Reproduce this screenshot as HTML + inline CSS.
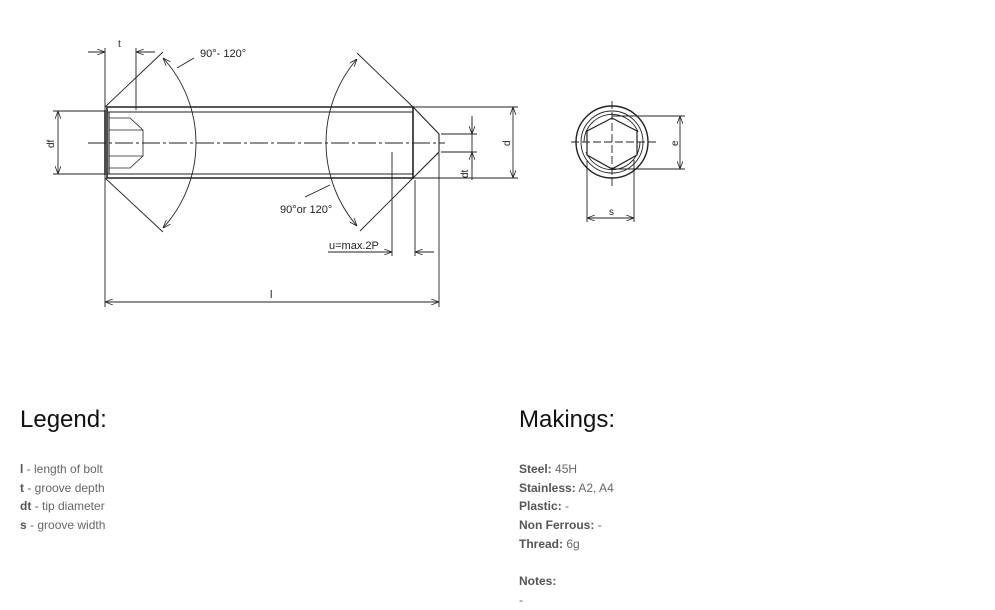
<!DOCTYPE html>
<html><head><meta charset="utf-8"><style>
body{margin:0;width:995px;height:608px;background:#fff;font-family:"Liberation Sans",sans-serif;position:relative;overflow:hidden}
h2{position:absolute;margin:0;font-weight:normal;font-size:24px;color:#111;top:406px}
.l{position:absolute;font-size:12px;color:#666;line-height:18.7px;top:460px}
.l b{color:#555}
</style></head><body>
<svg width="995" height="330" style="position:absolute;left:0;top:0" font-family="Liberation Sans" font-size="11" fill="#222">
<defs><marker id="a" markerWidth="8" markerHeight="6" refX="8" refY="3" orient="auto-start-reverse" markerUnits="userSpaceOnUse"><path d="M0,0L8,3L0,6" fill="none" stroke="#222" stroke-width="0.8"/></marker></defs>
<g stroke="#222" fill="none" stroke-width="0.9">
<path d="M107,107H413V178H107Z M105,110V175" stroke-width="1.6"/>
<path d="M107,112H413 M107,174H413 M413,107L439,134V152L413,178 M109,112V174" stroke-width="1.1"/>
<path d="M109,118H130L143,130V156L130,168H109 M109,130H143 M109,156H143" stroke-width="0.8"/>
<path d="M88,143H445" stroke-dasharray="18,3,3,3"/>
<path d="M105,107L163,52 M105,178L163,232 M413,107L357,53 M413,178L360,231"/>
<path d="M163,58A126,126 0 0 1 163,228" marker-start="url(#a)" marker-end="url(#a)"/>
<path d="M357,59A128,128 0 0 0 357,226" marker-start="url(#a)" marker-end="url(#a)"/>
<path d="M177,68L194,58 M305,197L330,185"/>
<path d="M105,48V307 M136,48V110 M88,52H105 M155,52H136"/>
<path d="M92,52H105" marker-end="url(#a)"/><path d="M150,52H136" marker-end="url(#a)"/>
<path d="M53,111H105 M53,174H105"/><path d="M58,111V174" marker-start="url(#a)" marker-end="url(#a)"/>
<path d="M413,107H518 M413,178H518"/><path d="M513,107V178" marker-start="url(#a)" marker-end="url(#a)"/>
<path d="M441,134H477 M441,152H477 M472,116V180"/>
<path d="M472,118V134" marker-end="url(#a)"/><path d="M472,168V152" marker-end="url(#a)"/>
<path d="M392,152V256 M415,180V256 M328,252H392 M415,252H434"/>
<path d="M380,252H392" marker-end="url(#a)"/><path d="M428,252H415" marker-end="url(#a)"/>
<path d="M439,153V307"/><path d="M105,302H439" marker-start="url(#a)" marker-end="url(#a)"/>
<circle cx="612" cy="142" r="36" stroke-width="1.4"/>
<path d="M584,142A28,28 0 0 1 638,132 M640,142A28,28 0 0 1 586,152" stroke-width="0.9"/>
<circle cx="612" cy="142" r="31" stroke-width="0.9"/>
<path d="M612,118L637,131V155L612,169L587,155V131Z" stroke-width="1.2"/>
<path d="M612,101V186 M571,142H658" stroke-dasharray="8,3"/>
<path d="M612,116H685 M612,169H685 M587,160V222 M634,160V222"/>
<path d="M680,116V169" marker-start="url(#a)" marker-end="url(#a)"/>
<path d="M587,218H634" marker-start="url(#a)" marker-end="url(#a)"/>
</g>
<g stroke="none">
<text x="200" y="57" font-size="11">90°- 120°</text>
<text x="280" y="213" font-size="11">90°or 120°</text>
<text x="329" y="249" font-size="11">u=max.2P</text>
<text x="118" y="47" font-size="10">t</text>
<text x="270" y="298" font-size="11">l</text>
<text x="609" y="215" font-size="10">s</text>
<text transform="translate(54,148) rotate(-90)" font-size="10">df</text>
<text transform="translate(510,146) rotate(-90)" font-size="10">d</text>
<text transform="translate(468,178) rotate(-90)" font-size="10">dt</text>
<text transform="translate(678,146) rotate(-90)" font-size="10">e</text>
</g>
</svg>
<h2 style="left:20px">Legend:</h2>
<h2 style="left:519px">Makings:</h2>
<div class="l" style="left:20px"><b>l</b> - length of bolt<br><b>t</b> - groove depth<br><b>dt</b> - tip diameter<br><b>s</b> - groove width</div>
<div class="l" style="left:519px"><b>Steel:</b> 45H<br><b>Stainless:</b> A2, A4<br><b>Plastic:</b> -<br><b>Non Ferrous:</b> -<br><b>Thread:</b> 6g<br><br><b>Notes:</b><br>-</div>
</body></html>
